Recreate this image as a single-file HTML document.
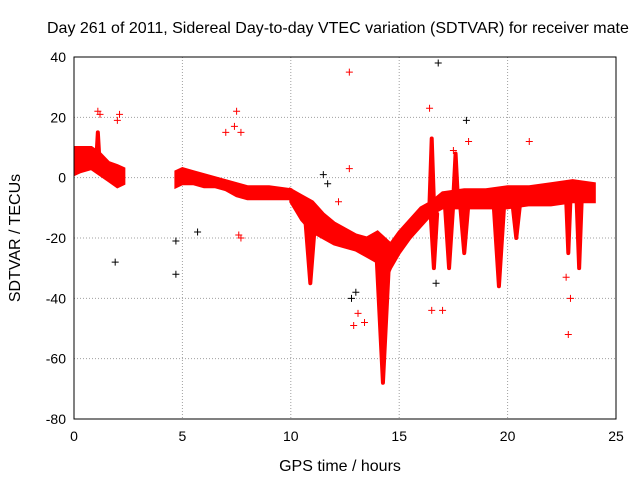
<!DOCTYPE html>
<html><head><meta charset="utf-8"><style>
body{margin:0;background:#fff;}
svg{display:block;font-family:"Liberation Sans",sans-serif;}
</style></head><body>
<svg id="chart" width="640" height="480">
<defs><clipPath id="clip"><rect x="74" y="57" width="542" height="362"/></clipPath></defs>
<text x="47" y="33" font-size="16" text-anchor="start">Day 261 of 2011, Sidereal Day-to-day VTEC variation (SDTVAR) for receiver mate</text>
<text x="340" y="471" font-size="16" text-anchor="middle">GPS time / hours</text>
<text x="20" y="238" font-size="16" text-anchor="middle" transform="rotate(-90 20 238)">SDTVAR / TECUs</text>
<g id="grid"></g><g id="ticks"></g>
<g id="marks" clip-path="url(#clip)"></g>
<rect x="74" y="57" width="542" height="362" fill="none" stroke="#000" stroke-width="1"/>
</svg>
<script>
const xTicks=[0,5,10,15,20,25];
const yTicks=[40,20,0,-20,-40,-60,-80];
// band segments: time, upper, lower
const segATime=[0,0.3,0.8,1.2,1.6,2.0,2.3];
const segAHi=[10,10,10,8,5,4,3];
const segALo=[1,2,3,1,-1,-3,-2];
const segBTime=[4.7,5,5.5,6,6.5,7,7.5,8,9,10];
const segBHi=[2,3,2,1,0,-1,-2,-3,-3,-4];
const segBLo=[-3,-2,-2,-3,-3,-4,-6,-7,-7,-7];
const segCTime=[10,10.5,11,11.5,12,12.5,13,13.5,14,14.3,14.6,15,15.5,16,16.5,17,18,19,20,21,22,23,24];
const segCHi=[-4,-6,-8,-12,-15,-17,-19,-20,-18,-20,-22,-18,-14,-10,-8,-5,-4,-4,-3,-3,-2,-1,-2];
const segCLo=[-8,-14,-18,-20,-22,-23,-24,-26,-28,-35,-30,-25,-20,-16,-12,-10,-10,-10,-10,-9,-9,-8,-8];
// dips: centre time, min value, base value, half width
const dipTime=[10.9,14.25,16.6,17.3,18.0,19.6,20.4,22.8,23.3,16.5,17.6,1.1];
const dipMin=[-35,-68,-30,-30,-25,-36,-20,-25,-30,13,8,15];
const dipBase=[-12,-25,-12,-8,-8,-8,-7,-7,-7,-8,-6,5];
const dipHalf=[0.25,0.3,0.15,0.2,0.2,0.25,0.2,0.1,0.12,0.1,0.1,0.08];
// outliers
const outT=[1.1,1.2,2.0,2.1,7.5,7.4,7.7,7.0,7.6,7.7,12.7,16.4,18.2,12.9,13.1,13.4,16.5,17.0,22.8,22.9,22.7,21.0,17.5,12.7,12.2];
const outV=[22,21,19,21,22,17,15,15,-19,-20,35,23,12,-49,-45,-48,-44,-44,-52,-40,-33,12,9,3,-8];
const blkT=[1.9,4.7,4.7,5.7,16.8,18.1,12.8,13.0,16.7,11.7,11.5];
const blkV=[-28,-32,-21,-18,38,19,-40,-38,-35,-2,1];

const X0=74,X1=616,Y0=57,Y1=419;
const sx=t=>X0+(t-0)/25*(X1-X0);
const sy=v=>Y0+(40-v)/120*(Y1-Y0);
const NS="http://www.w3.org/2000/svg";
function mk(tag,parent){const e=document.createElementNS(NS,tag);parent.appendChild(e);return e;}
const grid=document.getElementById('grid'),ticks=document.getElementById('ticks'),marks=document.getElementById('marks');
xTicks.forEach(t=>{
  const x=sx(t);
  if(t>0&&t<25){const g=mk('line',grid);g.setAttribute('x1',x);g.setAttribute('x2',x);g.setAttribute('y1',Y0);g.setAttribute('y2',Y1);g.setAttribute('stroke','#a0a0a0');g.setAttribute('stroke-dasharray','1,2');
  
  }
  const tx=mk('text',ticks);tx.setAttribute('x',x);tx.setAttribute('y',Y1+22);tx.setAttribute('font-size','14');tx.setAttribute('text-anchor','middle');tx.textContent=t;
  
  
});
yTicks.forEach(v=>{
  const y=sy(v);
  if(v<40&&v>-80){const g=mk('line',grid);g.setAttribute('x1',X0);g.setAttribute('x2',X1);g.setAttribute('y1',y);g.setAttribute('y2',y);g.setAttribute('stroke','#a0a0a0');g.setAttribute('stroke-dasharray','1,2');
  
  }
  const tx=mk('text',ticks);tx.setAttribute('x',X0-8);tx.setAttribute('y',y+5);tx.setAttribute('font-size','14');tx.setAttribute('text-anchor','end');tx.textContent=v;
  
  
});
function band(T,H,L,name){
  const pts=T.map((t,i)=>sx(t)+','+sy(H[i])).concat(T.map((t,i)=>sx(t)+','+sy(L[i])).reverse());
  const p=mk('polygon',marks);p.setAttribute('points',pts.join(' '));p.setAttribute('fill','#ff0000');p.setAttribute('stroke','#ff0000');p.setAttribute('stroke-width','3');
  
  
}
band(segATime,segAHi,segALo,'band-segment-a');
band(segBTime,segBHi,segBLo,'band-segment-b');
band(segCTime,segCHi,segCLo,'band-segment-c');
dipTime.forEach((t,i)=>{
  const p=mk('polygon',marks);
  p.setAttribute('points',[sx(t-dipHalf[i])+','+sy(dipBase[i]),sx(t)+','+sy(dipMin[i]),sx(t+dipHalf[i])+','+sy(dipBase[i])].join(' '));
  p.setAttribute('fill','#ff0000');p.setAttribute('stroke','#ff0000');p.setAttribute('stroke-width','4');p.setAttribute('stroke-linejoin','round');
  
  
});
function plus(t,v,c,name){
  const x=sx(t),y=sy(v);
  const p=mk('path',marks);p.setAttribute('d',`M${x-3.5},${y}H${x+3.5}M${x},${y-3.5}V${y+3.5}`);p.setAttribute('stroke',c);p.setAttribute('stroke-width','1');
  
  
}
outT.forEach((t,i)=>plus(t,outV[i],'#ff0000','outlier-point'));
blkT.forEach((t,i)=>plus(t,blkV[i],'#000','outlier-point-black'));
</script>
</body></html>
